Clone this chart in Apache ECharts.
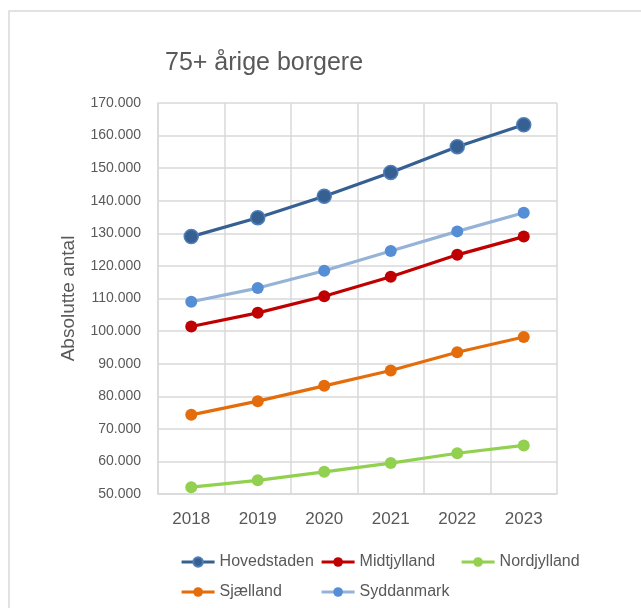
<!DOCTYPE html>
<html>
<head>
<meta charset="utf-8">
<script src="https://cdn.jsdelivr.net/npm/echarts@6/dist/echarts.min.js"></script>
<style>
    * { margin: 0; padding: 0; }
    body { background: #fff; }
    #main { width: 641px; height: 608px; }
</style>
</head>
<body>
<div id="main"></div>
<script>
    var years = ['2018', '2019', '2020', '2021', '2022', '2023'];
    var hovedstaden = [129000, 134800, 141400, 148700, 156600, 163300];
    var midtjylland = [101400, 105600, 110700, 116700, 123400, 129000];
    var nordjylland = [52100, 54200, 56800, 59500, 62500, 64900];
    var sjaelland = [74300, 78500, 83200, 87900, 93500, 98200];
    var syddanmark = [109000, 113200, 118500, 124600, 130600, 136300];

    var yTicks = { min: 50000, max: 170000, step: 10000 };

    var chart = echarts.init(document.getElementById('main'));

    function line(name, data, lineColor, dotColor, border) {
        return {
            name: name,
            type: 'line',
            data: data,
            symbol: 'circle',
            symbolSize: border ? 14 : 12,
            lineStyle: { color: lineColor, width: 3.2 },
            itemStyle: {
                color: dotColor,
                borderColor: border || dotColor,
                borderWidth: border ? 1.5 : 0
            }
        };
    }

    function legendAt(name, left, top) {
        return {
            data: [name],
            left: left,
            top: top,
            itemWidth: 33,
            itemHeight: 12,
            itemGap: 4,
            lineStyle: { width: 3.2 },
            textStyle: { color: '#595959', fontSize: 16, fontFamily: 'Liberation Sans' }
        };
    }

    var option = {
        animation: false,
        textStyle: { fontFamily: 'Liberation Sans' },
        graphic: [{
            type: 'rect',
            shape: { x: 9, y: 11, width: 700, height: 700 },
            style: { fill: 'none', stroke: '#d9d9d9', lineWidth: 1.5 },
            silent: true
        }],
        title: {
            text: '75+ årige borgere',
            left: 160,
            top: 46,
            textStyle: { color: '#595959', fontSize: 25, fontWeight: 'normal', fontFamily: 'Liberation Sans' }
        },
        legend: [
            legendAt('Hovedstaden', 175, 549),
            legendAt('Midtjylland', 315, 549),
            legendAt('Nordjylland', 455, 549),
            legendAt('Sjælland', 175, 579),
            legendAt('Syddanmark', 315, 579)
        ],
        grid: { left: 158, right: 84, top: 103, bottom: 114 },
        xAxis: {
            type: 'category',
            data: years,
            boundaryGap: true,
            axisLine: { lineStyle: { color: '#d9d9d9', width: 1.5 } },
            axisTick: { show: false },
            splitLine: { show: true, lineStyle: { color: '#d9d9d9', width: 1.5 } },
            axisLabel: { color: '#595959', fontSize: 17, margin: 17 }
        },
        yAxis: {
            type: 'value',
            min: yTicks.min,
            max: yTicks.max,
            interval: yTicks.step,
            name: 'Absolutte antal',
            nameLocation: 'middle',
            nameGap: 80,
            nameTextStyle: { color: '#595959', fontSize: 19 },
            axisLine: { show: true, lineStyle: { color: '#d9d9d9', width: 1.5 } },
            axisTick: { show: false },
            splitLine: { lineStyle: { color: '#d9d9d9', width: 1.5 } },
            axisLabel: {
                color: '#595959',
                fontSize: 14,
                margin: 17,
                formatter: function (v) { return (v / 1000).toFixed(0) + '.000'; }
            }
        },
        series: [
            line('Hovedstaden', hovedstaden, '#376092', '#376092', '#4f7fb8'),
            line('Midtjylland', midtjylland, '#c00000', '#c00000'),
            line('Nordjylland', nordjylland, '#92d050', '#92d050'),
            line('Sjælland', sjaelland, '#e46c0a', '#e46c0a'),
            line('Syddanmark', syddanmark, '#95b3d7', '#558ed5')
        ]
    };

    chart.setOption(option);
</script>
</body>
</html>
